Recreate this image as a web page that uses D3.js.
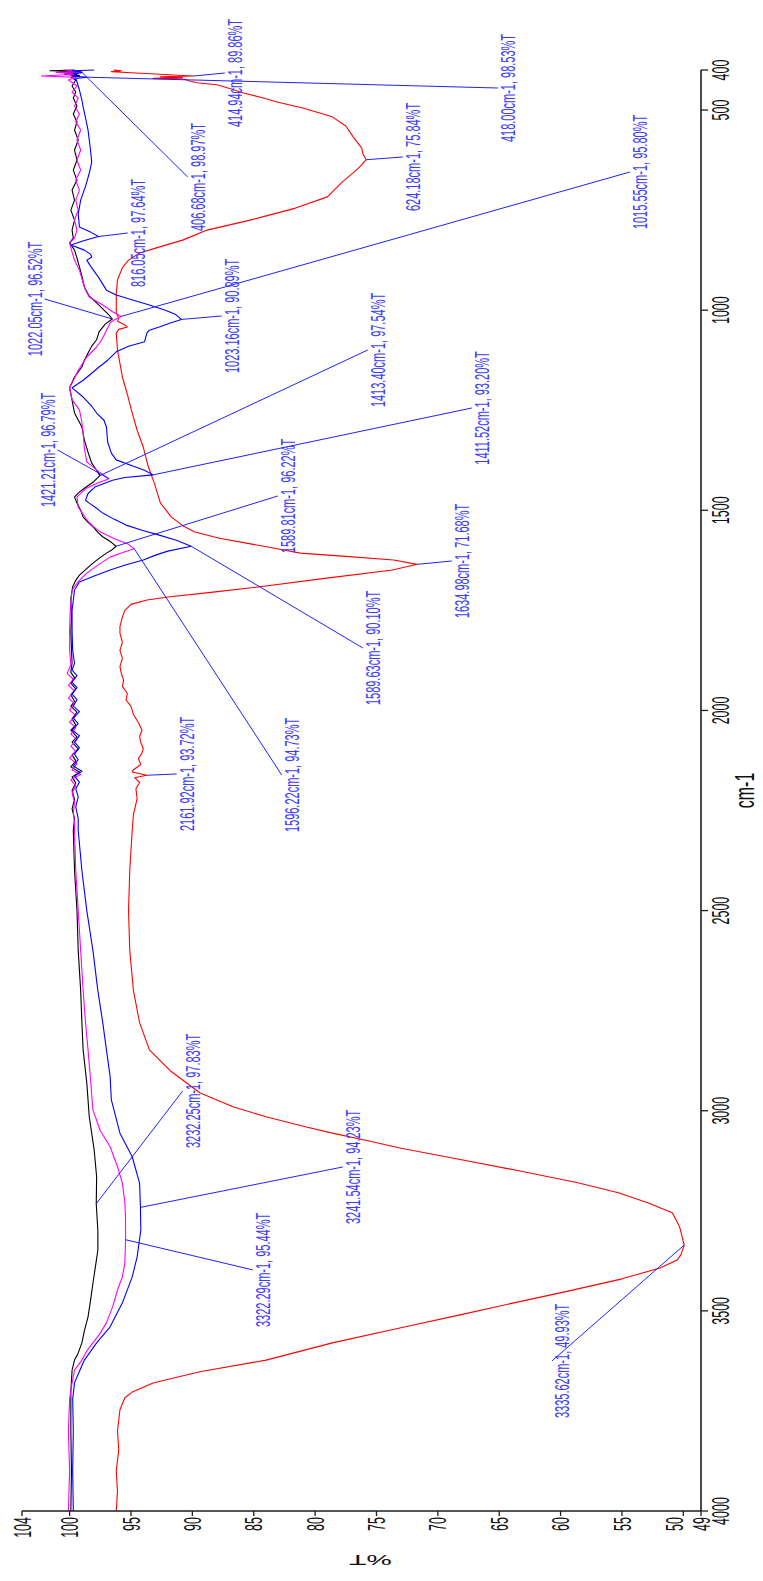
<!DOCTYPE html>
<html>
<head>
<meta charset="utf-8">
<script src="https://cdn.jsdelivr.net/npm/d3@7/dist/d3.min.js"></script>
<style>
  html, body { margin: 0; padding: 0; background: #fff; }
  svg { display: block; }
</style>
</head>
<body>
<svg id="chart" width="763" height="1581"></svg>
<script>
// FTIR overlay, drawn turned on its side: wavenumber runs down the right axis,
// transmittance runs along the bottom axis (104 at the left, 49 at the right).

const wnTicks = [400, 500, 1000, 1500, 2000, 2500, 3000, 3500, 4000];
const tRange = [103.88, 48.56];            // %T at the two ends of the bottom axis
const tTicks = [103.88, 100, 95, 90, 85, 80, 75, 70, 65, 60, 55, 50, 48.56];

// [wavenumber cm-1, %T]
const blackSpectrum = [
  [400,99.6],[402,101.6],[404,99.1],[406,100.9],[408,99.3],[411,100.4],[414,99.2],[418,99.9],[425,99.5],
  [440,99.8],[455,99.5],[470,99.7],[490,99.4],[510,99.7],[530,99.4],[550,99.6],[575,99.3],[600,99.6],
  [625,99.4],[650,99.7],[675,99.4],[700,99.8],[725,99.6],[750,99.9],[775,99.6],[800,99.8],[820,99.7],
  [832,100.0],[850,99.6],[870,99.4],[892,99.2],[915,99.0],[942,98.8],[965,98.4],[982,97.8],[1000,97.2],
  [1012,96.8],[1022.05,96.52],[1035,97.1],[1054,97.6],[1074,97.8],[1090,98.2],[1107,98.5],[1125,98.8],
  [1142,99.0],[1167,99.6],[1194,100.0],[1225,99.8],[1257,99.6],[1292,99.0],[1324,98.8],[1355,98.5],
  [1382,98.2],[1400,97.8],[1413.40,97.54],[1430,98.1],[1445,98.8],[1457,99.3],[1467,99.6],[1482,99.4],
  [1500,99.1],[1517,98.9],[1530,98.5],[1541,98.1],[1555,97.7],[1566,97.3],[1580,96.6],[1589.81,96.22],
  [1600,96.6],[1607,97.0],[1620,97.6],[1632,98.1],[1648,98.7],[1662,99.2],[1675,99.5],[1691,99.75],
  [1720,99.9],[1767,99.85],[1800,99.9],[1850,99.85],[1880,99.8],[1905,99.9],[1918,99.6],[1932,99.9],
  [1946,99.5],[1961,99.9],[1977,99.6],[1990,99.9],[2004,99.4],[2021,99.8],[2036,99.5],[2049,99.9],
  [2066,99.4],[2079,99.8],[2096,99.3],[2111,99.8],[2126,99.5],[2141,99.9],[2154,99.2],[2166,99.8],
  [2181,99.5],[2200,99.8],[2222,99.6],[2246,99.8],[2270,99.6],[2300,99.7],[2400,99.6],[2500,99.4],
  [2600,99.3],[2700,99.1],[2780,99.0],[2848,98.9],[2931,98.6],[3015,98.4],[3098,98.0],[3165,97.8],
  [3232.25,97.83],[3300,97.7],[3348,97.7],[3390,97.9],[3431,98.1],[3475,98.3],[3515,98.5],[3550,98.8],
  [3580,99.0],[3605,99.3],[3623,99.6],[3648,99.8],[3700,99.9],[3800,99.9],[3900,99.85],[4000,99.9]
];

const magentaSpectrum = [
  [400,100.4],[403,99.0],[406,101.1],[409,99.3],[412,100.3],[415,102.3],[418,99.5],[425,100.1],[440,99.4],
  [455,99.8],[470,99.3],[490,99.6],[510,99.2],[530,99.5],[550,99.1],[575,99.4],[600,99.1],[625,99.4],
  [650,99.1],[675,99.5],[700,99.2],[725,99.5],[750,99.3],[775,99.6],[800,99.4],[820,99.6],[832,100.0],
  [855,99.8],[875,99.6],[900,99.2],[932,98.9],[950,98.7],[967,98.4],[987,97.3],[1004,96.5],[1015.55,95.80],
  [1025,96.4],[1032,96.7],[1057,97.1],[1075,97.4],[1092,97.8],[1117,98.6],[1150,99.3],[1170,99.6],
  [1194,100.0],[1224,99.8],[1249,99.2],[1280,99.0],[1307,98.9],[1345,98.8],[1379,98.6],[1404,97.6],
  [1421.21,96.79],[1432,97.7],[1444,98.6],[1455,99.0],[1467,99.4],[1492,99.3],[1510,98.9],[1524,98.6],
  [1540,98.1],[1554,97.5],[1574,96.1],[1585,95.2],[1596.22,94.73],[1605,95.6],[1617,96.7],[1637,97.7],
  [1657,98.6],[1678,99.3],[1699,99.8],[1750,99.95],[1800,100.0],[1850,100.0],[1886,99.9],[1908,100.2],
  [1922,99.7],[1937,100.1],[1952,99.6],[1969,100.1],[1983,99.6],[1999,100.0],[2013,99.5],[2029,100.0],
  [2043,99.5],[2059,99.9],[2073,99.4],[2089,99.9],[2103,99.5],[2119,100.0],[2133,99.4],[2149,99.8],
  [2160,99.1],[2173,99.9],[2189,99.5],[2206,99.8],[2229,99.6],[2256,99.7],[2280,99.6],[2300,99.6],
  [2400,99.5],[2500,99.3],[2600,99.1],[2700,98.9],[2780,98.7],[2848,98.5],[2920,98.3],[2998,98.1],
  [3050,97.5],[3090,96.7],[3140,96.1],[3181,95.7],[3230,95.5],[3265,95.45],[3322.29,95.44],[3380,95.5],
  [3415,95.7],[3448,96.1],[3490,96.5],[3530,97.0],[3560,97.6],[3580,98.1],[3600,98.6],[3623,99.0],
  [3648,99.6],[3680,99.8],[3720,100.0],[3800,100.1],[3900,100.0],[4000,100.1]
];

const blueSpectrum = [
  [400,98.0],[402,99.8],[404,99.2],[406.68,98.97],[409,99.7],[412,99.4],[415,99.8],[418.00,98.53],
  [421,99.5],[430,99.4],[450,99.2],[475,99.0],[492,98.9],[520,98.7],[550,98.5],[575,98.4],[600,98.3],
  [630,98.2],[658,98.4],[690,98.7],[725,99.1],[760,99.3],[792,99.2],[805,98.3],[816.05,97.64],[826,98.8],
  [837,99.9],[850,98.8],[860,98.3],[867,98.2],[875,98.6],[890,98.3],[920,97.6],[950,97.0],[962,96.2],
  [975,94.8],[987,93.5],[1000,92.2],[1010,91.4],[1023.16,90.89],[1032,91.8],[1042,92.7],[1050,93.5],
  [1057,93.7],[1068,93.8],[1079,93.9],[1090,95.2],[1104,96.2],[1125,96.9],[1142,97.6],[1160,98.3],
  [1175,98.9],[1194,99.8],[1217,98.9],[1240,98.2],[1257,97.8],[1275,97.2],[1292,97.0],[1330,96.9],
  [1357,96.6],[1374,96.2],[1390,94.8],[1400,93.9],[1411.52,93.20],[1418,95.5],[1425,96.5],[1441,97.9],
  [1458,98.5],[1475,98.7],[1482,98.4],[1495,97.8],[1507,97.3],[1522,96.4],[1537,95.4],[1550,94.1],
  [1562,92.7],[1575,91.3],[1589.63,90.10],[1602,92.0],[1612,93.0],[1624,94.0],[1636,95.4],[1649,96.7],
  [1664,98.0],[1679,99.2],[1699,99.6],[1750,99.8],[1800,99.8],[1850,99.75],[1882,99.6],[1899,99.8],
  [1913,99.4],[1929,99.8],[1943,99.4],[1959,99.8],[1973,99.4],[1989,99.7],[2003,99.2],[2019,99.7],
  [2033,99.3],[2049,99.8],[2063,99.2],[2079,99.6],[2093,99.2],[2109,99.6],[2123,99.3],[2139,99.7],
  [2152,99.0],[2164,99.6],[2179,99.2],[2196,99.5],[2216,99.3],[2241,99.5],[2270,99.3],[2300,99.3],
  [2400,99.0],[2500,98.6],[2600,98.1],[2700,97.7],[2780,97.3],[2848,97.0],[2915,96.7],[2973,96.6],
  [3056,95.9],[3115,94.9],[3181,94.3],[3241.54,94.23],[3298,94.2],[3365,94.5],[3415,94.9],[3480,95.7],
  [3540,96.7],[3580,97.8],[3623,98.8],[3665,99.4],[3680,99.6],[3720,99.75],[3800,99.7],[3900,99.75],
  [4000,99.7]
];

const redSpectrum = [
  [400,96.4],[402,95.8],[404,96.6],[407,95.0],[410,93.0],[413,91.2],[414.94,89.86],[417,92.6],[419,90.8],
  [421,93.2],[423,90.6],[427,90.3],[432,89.6],[437,88.0],[447,86.9],[457,85.9],[470,84.2],[480,83.1],
  [495,81.0],[517,78.6],[540,77.5],[567,76.9],[595,76.2],[610,76.1],[624.18,75.84],[640,76.3],[657,76.9],
  [680,77.8],[717,79.0],[745,81.6],[775,85.3],[800,88.8],[825,90.8],[845,93.0],[857,94.3],[875,95.2],
  [894,95.7],[924,96.1],[960,96.2],[1007,96.2],[1020,96.0],[1028,96.1],[1035,95.6],[1042,95.3],[1048,96.0],
  [1057,96.2],[1099,96.1],[1167,95.7],[1210,95.3],[1257,94.9],[1300,94.5],[1342,94.0],[1390,93.6],
  [1432,93.1],[1482,92.6],[1517,91.7],[1540,90.7],[1554,89.8],[1570,87.8],[1582,85.6],[1595,83.3],
  [1607,81.2],[1615,77.5],[1624,73.6],[1634.98,71.68],[1649,73.7],[1670,79.2],[1691,84.5],[1705,88.5],
  [1716,91.8],[1724,93.7],[1735,95.0],[1750,95.5],[1767,95.7],[1790,95.9],[1807,95.9],[1830,95.7],
  [1850,95.9],[1870,95.7],[1890,95.9],[1906,95.8],[1925,95.6],[1940,95.7],[1957,95.3],[1974,95.4],
  [1990,95.0],[2010,94.8],[2030,94.4],[2049,94.1],[2065,94.3],[2080,94.2],[2095,94.0],[2106,94.1],
  [2120,94.4],[2135,94.2],[2148,94.8],[2154,94.9],[2161.92,93.72],[2168,94.7],[2180,94.3],[2195,94.6],
  [2220,94.5],[2260,94.8],[2300,94.9],[2400,95.1],[2500,95.2],[2600,95.1],[2700,94.8],[2780,94.3],
  [2848,93.5],[2900,91.8],[2955,89.4],[2990,86.7],[3015,84.0],[3040,80.8],[3056,78.6],[3075,75.7],
  [3093,73.1],[3120,68.5],[3150,63.4],[3180,58.6],[3205,55.3],[3230,52.9],[3255,50.9],[3290,50.3],
  [3335.62,49.93],[3360,50.2],[3373,50.5],[3393,51.9],[3420,55.0],[3450,59.3],[3480,63.8],[3510,68.2],
  [3543,73.1],[3580,78.6],[3623,84.0],[3652,89.4],[3680,93.2],[3703,94.9],[3717,95.5],[3747,95.9],
  [3800,96.1],[3847,96.0],[3900,96.2],[3950,96.1],[4000,96.2]
];

const seriesColors = ["#ff0000", "#000000", "#ff00ff", "#0000ff"];
const seriesList = [redSpectrum, blackSpectrum, magentaSpectrum, blueSpectrum];

// Peak picks: wavenumber, %T, where the leader ends, and which side of it the text sits
const peakWn    = [406.68, 414.94, 418.00, 624.18, 816.05, 1015.55, 1022.05, 1023.16, 1413.40, 1411.52,
                   1421.21, 1589.81, 1589.63, 1634.98, 1596.22, 2161.92, 3232.25, 3241.54, 3322.29, 3335.62];
const peakT     = [98.97, 89.86, 98.53, 75.84, 97.64, 95.80, 96.52, 90.89, 97.54, 93.20,
                   96.79, 96.22, 90.10, 71.68, 94.73, 93.72, 97.83, 94.23, 95.44, 49.93];
const leaderWn  = [667.3, 407.5, 445.0, 617.3, 807.2, 654.8, 972.1, 1014.5, 1099.5, 1244.4,
                   1349.3, 1464.2, 1843.9, 1626.6, 2161.2, 2158.7, 2950.6, 3140.5, 3397.7, 3625.0];
const leaderT   = [90.38, 87.36, 65.11, 72.85, 95.27, 54.35, 102.04, 87.61, 75.71, 67.23,
                   100.98, 83.04, 76.11, 68.86, 82.72, 91.28, 90.79, 77.74, 85.08, 60.70];
const textSide  = ["r","r","r","r","r","r","l","r","r","r","l","r","r","r","r","r","r","r","r","r"];

const FONT = "'Liberation Sans', Arial, sans-serif";
const STRETCH = 1.9;   // glyphs are drawn tall across the page

const svg = d3.select("#chart");

const yW = d3.scaleLinear().domain([400, 4000]).range([70, 1511]);
const xT = d3.scaleLinear().domain(tRange).range([22, 701]);

// spectra
const line = d3.line().x(d => xT(d[1])).y(d => yW(d[0]));
svg.append("g").selectAll("path")
  .data(seriesList)
  .join("path")
  .attr("d", line)
  .attr("fill", "none")
  .attr("stroke", (d, i) => seriesColors[i])
  .attr("stroke-width", 1.1)
  .attr("stroke-linejoin", "round");

// axes
const axisG = svg.append("g").attr("stroke", "#1e1e1e").attr("fill", "none");
axisG.append("line")
  .attr("x1", xT(tRange[0])).attr("x2", xT(tRange[1]))
  .attr("y1", yW(4000)).attr("y2", yW(4000))
  .attr("stroke-width", 1.6);
axisG.append("line")
  .attr("x1", xT(tRange[1])).attr("x2", xT(tRange[1]))
  .attr("y1", yW(400)).attr("y2", yW(4000))
  .attr("stroke-width", 1.6);
axisG.selectAll("line.tx").data(tTicks).join("line")
  .attr("class", "tx")
  .attr("x1", d => xT(d)).attr("x2", d => xT(d))
  .attr("y1", yW(4000)).attr("y2", yW(4000) + 5)
  .attr("stroke-width", 1.3);
axisG.selectAll("line.ty").data(wnTicks).join("line")
  .attr("class", "ty")
  .attr("x1", xT(tRange[1])).attr("x2", xT(tRange[1]) + 7)
  .attr("y1", d => yW(d)).attr("y2", d => yW(d))
  .attr("stroke-width", 1.3);

const fmt0 = d3.format(".0f");

// %T tick labels, read bottom to top
svg.append("g").selectAll("text").data(tTicks).join("text")
  .attr("transform", d => {
    const crowd = (d !== tRange[1] && Math.abs(xT(d) - xT(tRange[1])) < 20) ? -9 : 0;
    return `translate(${xT(d) + crowd},${yW(4000) + 6}) scale(${STRETCH},1) rotate(-90)`;
  })
  .attr("text-anchor", "end")
  .attr("dy", "0.36em")
  .attr("font-family", FONT)
  .attr("font-size", 12.5)
  .attr("fill", "#111")
  .text(d => fmt0(d));

// wavenumber tick labels
svg.append("g").selectAll("text").data(wnTicks).join("text")
  .attr("transform", d => `translate(${xT(tRange[1]) + 11},${yW(d)}) scale(${STRETCH},1) rotate(-90)`)
  .attr("text-anchor", "middle")
  .attr("dy", "0.72em")
  .attr("font-family", FONT)
  .attr("font-size", 12.5)
  .attr("fill", "#111")
  .text(d => d);

// axis titles
svg.append("text")
  .attr("transform", `translate(734,${yW(2200)}) scale(1.75,1) rotate(-90)`)
  .attr("text-anchor", "middle")
  .attr("dy", "0.72em")
  .attr("font-family", FONT)
  .attr("font-size", 16)
  .attr("fill", "#111")
  .text("cm-1");

svg.append("text")
  .attr("transform", `translate(${xT(75.5)},1560) scale(${STRETCH},1) rotate(180)`)
  .attr("text-anchor", "middle")
  .attr("dy", "0.36em")
  .attr("font-family", FONT)
  .attr("font-size", 15)
  .attr("fill", "#111")
  .text("%T");

// peak picks
const peaks = peakWn.map((w, i) => ({
  wn: w, t: peakT[i], ew: leaderWn[i], et: leaderT[i], side: textSide[i]
}));

svg.append("g").selectAll("line").data(peaks).join("line")
  .attr("x1", d => xT(d.t)).attr("y1", d => yW(d.wn))
  .attr("x2", d => xT(d.et)).attr("y2", d => yW(d.ew))
  .attr("stroke", "#2020ff")
  .attr("stroke-width", 1);

svg.append("g").selectAll("text").data(peaks).join("text")
  .attr("transform", d => {
    const x = xT(d.et) + (d.side === "r" ? 2 : -3);
    return `translate(${x},${yW(d.ew)}) scale(${STRETCH},1) rotate(-90)`;
  })
  .attr("text-anchor", "middle")
  .attr("dy", d => d.side === "r" ? "0.74em" : "0")
  .attr("font-family", FONT)
  .attr("font-size", 11)
  .attr("fill", "#3c3cff")
  .text(d => `${d.wn.toFixed(2)}cm-1, ${d.t.toFixed(2)}%T`);
</script>
</body>
</html>
